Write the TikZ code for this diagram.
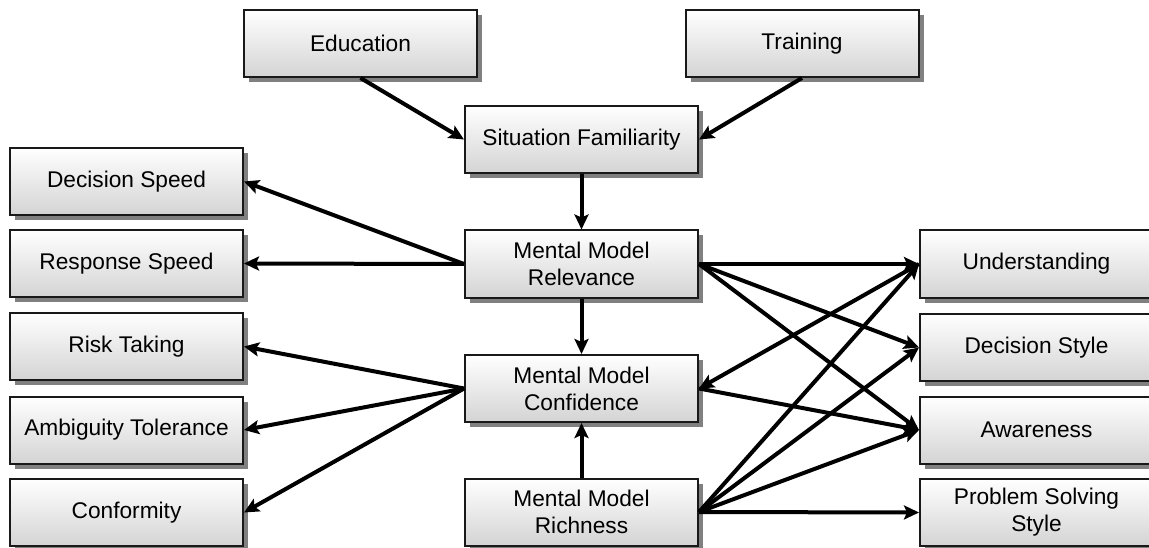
\documentclass[tikz,border=0pt]{standalone}
\usepackage{fontspec}
\setmainfont{Liberation Sans}
\usetikzlibrary{arrows.meta,shadows}
\begin{document}
\begin{tikzpicture}[x=1pt,y=-1pt,
  box/.style={draw=black!90, line width=2pt, top color=white, bottom color=black!17,
    minimum width=233pt, minimum height=67pt, inner sep=0pt, outer sep=1pt,
    align=center, font=\fontsize{22.7}{27}\selectfont,
    drop shadow={shadow xshift=5pt, shadow yshift=-5pt, fill=black!50, opacity=1}},
  link/.style={line width=4pt, -{Stealth[length=15pt,width=14pt,inset=3pt]}}]
\useasboundingbox (0,0) rectangle (1149,548);
\clip (0,0) rectangle (1149,548);

% inputs
\node[box] (edu) at (360.5,43.5) {Education};
\node[box] (trn) at (802,43.5) {Training};

% central chain
\node[box] (sf)  at (581.5,139.5) {Situation Familiarity};
\node[box] (rel) at (581.5,264) {Mental Model\\Relevance};
\node[box] (con) at (581.5,388.5) {Mental Model\\Confidence};
\node[box] (ric) at (581.5,512) {Mental Model\\Richness};

% left outcomes
\node[box] (dsp) at (126.5,181.5) {Decision Speed};
\node[box] (rsp) at (126.5,263.5) {Response Speed};
\node[box] (rsk) at (126.5,346.5) {Risk Taking};
\node[box] (amb) at (126.5,430) {Ambiguity Tolerance};
\node[box] (cnf) at (126.5,512.5) {Conformity};

% right outcomes
\node[box] (und) at (1036.5,264) {Understanding};
\node[box] (dst) at (1036.5,347.5) {Decision Style};
\node[box] (awa) at (1036.5,430) {Awareness};
\node[box] (pss) at (1036.5,512.5) {Problem Solving\\Style};

% connectors
\draw[link] (edu.south) -- (sf.west);
\draw[link] (trn.south) -- (sf.east);
\draw[link] (sf.south) -- (rel.north);
\draw[link] (rel.south) -- (con.north);
\draw[link] (ric.north) -- (con.south);

\draw[link] (rel.west) -- (dsp.east);
\draw[link] (rel.west) -- (rsp.east);
\draw[link] (con.west) -- (rsk.east);
\draw[link] (con.west) -- (amb.east);
\draw[link] (con.west) -- (cnf.east);

\draw[link] (rel.east) -- (und.west);
\draw[link] (rel.east) -- (dst.west);
\draw[link] (rel.east) -- (awa.west);
\draw[link] (und.west) -- (con.east);
\draw[link] (con.east) -- (awa.west);
\draw[link] (ric.east) -- (und.west);
\draw[link] (ric.east) -- (dst.west);
\draw[link] (ric.east) -- (awa.west);
\draw[link] (ric.east) -- (pss.west);
\end{tikzpicture}
\end{document}
